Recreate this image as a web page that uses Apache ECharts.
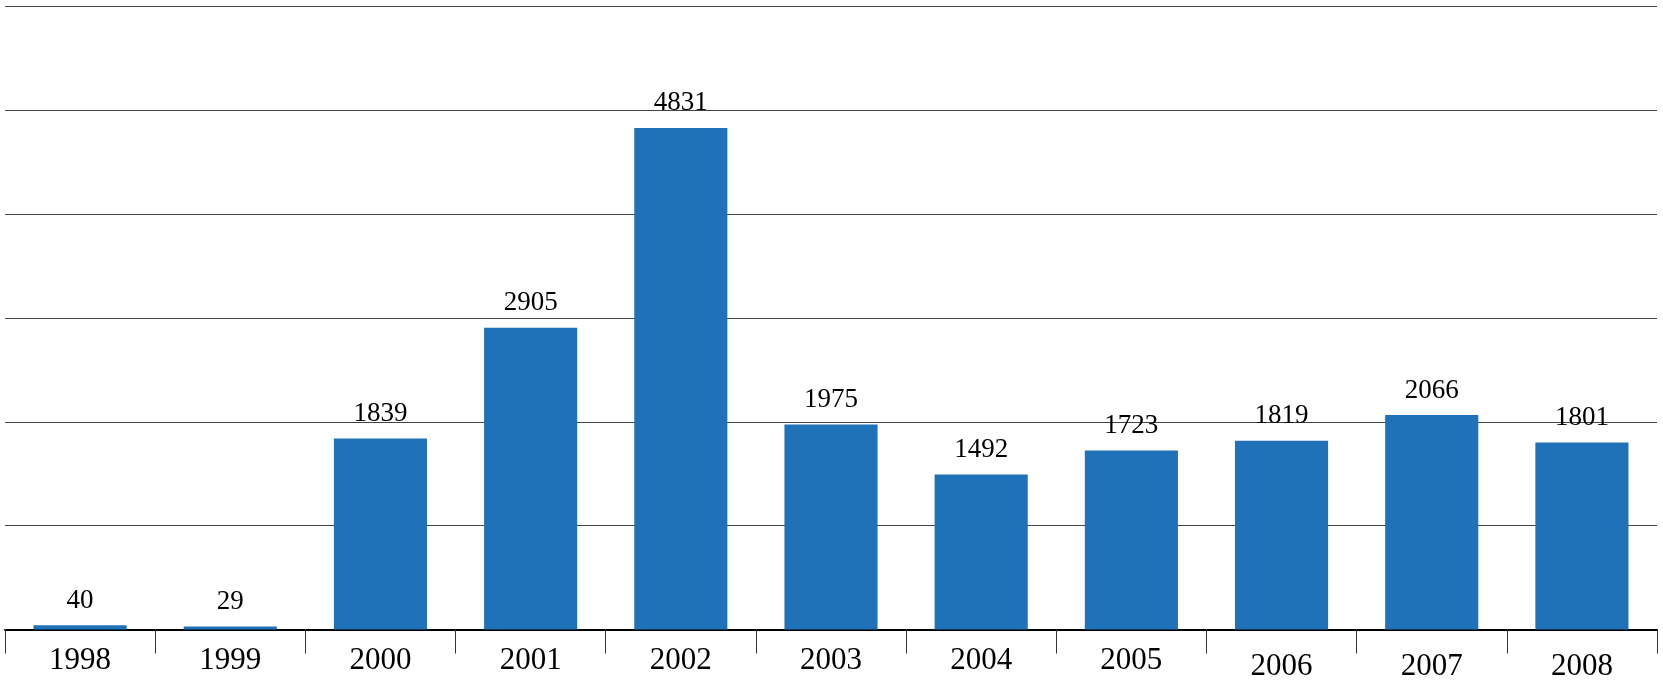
<!DOCTYPE html>
<html>
<head>
    <meta charset="utf-8">
    <title>ECharts</title>
    <script src="https://cdn.jsdelivr.net/npm/echarts@6/dist/echarts.min.js"></script>
    <style>
        html, body { margin: 0; padding: 0; background: #fff; }
        #main { width: 1663px; height: 691px; }
    </style>
</head>
<body>
    <div id="main"></div>

    <script type="text/javascript">
        // data
        var years = ['1998', '1999', '2000', '2001', '2002', '2003', '2004', '2005', '2006', '2007', '2008'];
        var counts = [40, 29, 1839, 2905, 4831, 1975, 1492, 1723, 1819, 2066, 1801];

        // last three year labels sit a little lower in the original
        var lowered = ['2006', '2007', '2008'];

        var myChart = echarts.init(document.getElementById('main'));

        var option = {
            animation: false,
            grid: {
                left: 5,
                right: 6,
                top: 6.5,
                bottom: 61.5,
                containLabel: false
            },
            xAxis: {
                type: 'category',
                data: years.map(function (y) {
                    if (lowered.indexOf(y) >= 0) {
                        return { value: y, textStyle: { padding: [6, 0, 0, 0] } };
                    }
                    return y;
                }),
                axisLine: { show: true, lineStyle: { color: '#000', width: 2 } },
                axisTick: {
                    show: true,
                    alignWithLabel: false,
                    interval: 0,
                    length: 24,
                    lineStyle: { color: '#333', width: 1 }
                },
                axisLabel: {
                    color: '#000',
                    fontFamily: 'Liberation Serif',
                    fontSize: 31,
                    margin: 16
                }
            },
            yAxis: {
                type: 'value',
                min: 0,
                max: 6000,
                interval: 1000,
                axisLine: { show: false },
                axisTick: { show: false },
                axisLabel: { show: false },
                splitLine: { lineStyle: { color: '#444', width: 1 } }
            },
            series: [{
                type: 'bar',
                data: counts,
                barCategoryGap: '38%',
                itemStyle: { color: '#1f71b8' },
                label: {
                    show: true,
                    position: 'top',
                    distance: 11,
                    color: '#000',
                    fontFamily: 'Liberation Serif',
                    fontSize: 27
                }
            }]
        };

        myChart.setOption(option);
    </script>
</body>
</html>
